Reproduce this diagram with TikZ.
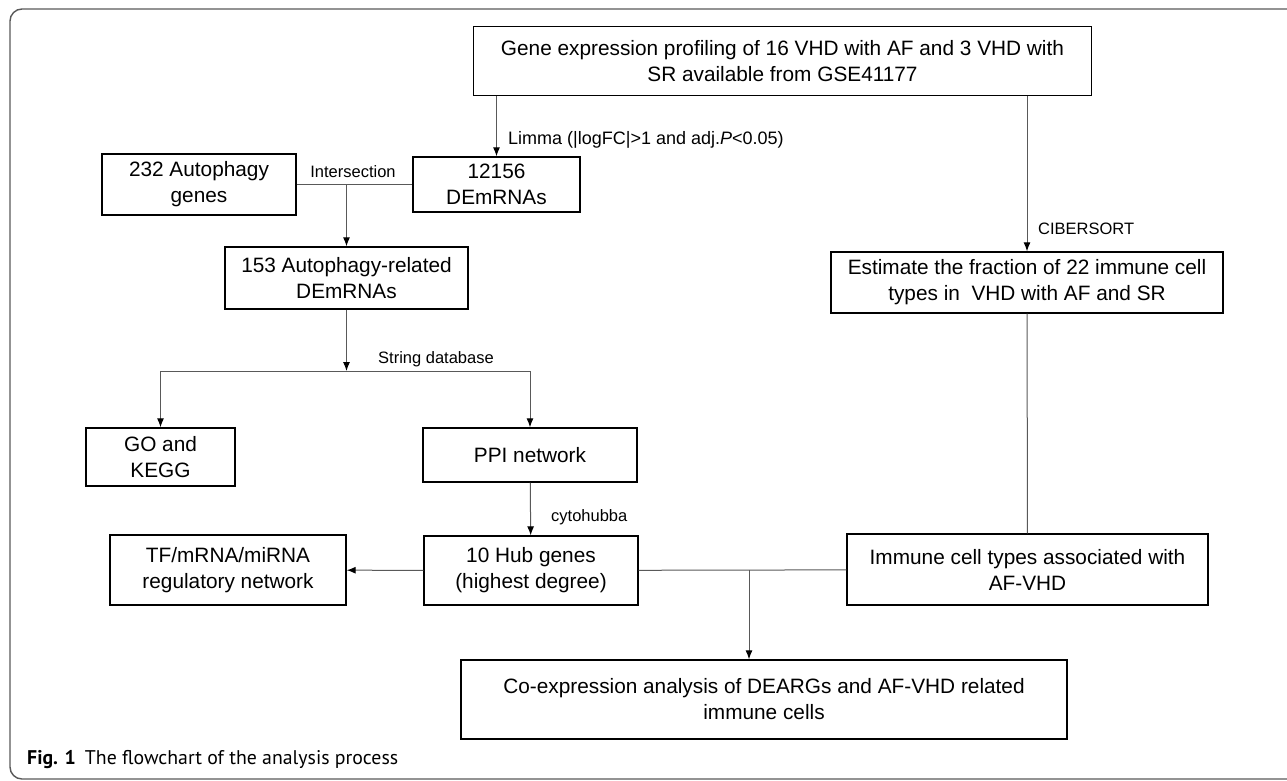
\documentclass[tikz,border=0pt]{standalone}
\usepackage{fontspec}
\setmainfont{Liberation Sans}
\newfontfamily\capfont{PT Sans}
\usetikzlibrary{arrows.meta}
\begin{document}
\begin{tikzpicture}[x=1pt,y=-1pt,
    box/.style={draw=black,line width=1.4pt,align=center,inner sep=2pt,
      font=\fontsize{20.8}{26}\selectfont},
    lbl/.style={font=\fontsize{16.5}{19}\selectfont,inner sep=0pt},
    conn/.style={draw=black!65,line width=1pt},
    arr/.style={conn,-{Latex[length=9pt,width=7pt,black]}}]
      \useasboundingbox (0,0) rectangle (1287,780);
      \clip (0,0) rectangle (1287,780);
      \draw[black!65,line width=1.4pt,rounded corners=12pt] (10,9) rectangle (1310,779);
      \draw
        (782.5,61) node[box,minimum width=618pt,minimum height=69pt] (top)
          {Gene expression profiling of 16 VHD with AF and 3 VHD with\\SR available from GSE41177}
        (199,184.5) node[box,minimum width=194pt,minimum height=61pt] (auto) {232 Autophagy\\genes}
        (496.5,184.5) node[box,minimum width=167pt,minimum height=55pt] (dem) {12156\\DEmRNAs}
        (346.5,278) node[box,minimum width=243pt,minimum height=62pt] (rel) {153 Autophagy-related\\DEmRNAs}
        (160.5,457) node[box,minimum width=149pt,minimum height=58pt] (go) {GO and\\KEGG}
        (530,455) node[box,minimum width=214pt,minimum height=54pt] (ppi) {PPI network}
        (531,570.5) node[box,minimum width=214pt,minimum height=69pt] (hub) {10 Hub genes\\(highest degree)}
        (228,570) node[box,minimum width=236pt,minimum height=70pt] (tf) {TF/mRNA/miRNA\\regulatory network}
        (1027,282.5) node[box,minimum width=392pt,minimum height=61pt] (est)
          {Estimate the fraction of 22 immune cell\\types in\ \ VHD with AF and SR}
        (1027.5,569.5) node[box,minimum width=361pt,minimum height=71pt] (imm)
          {Immune cell types associated with\\AF-VHD}
        (764,699.5) node[box,minimum width=606pt,minimum height=79pt] (coex)
          {Co-expression analysis of DEARGs and AF-VHD related\\immune cells};
      % labels
      \node[lbl,anchor=west,font=\fontsize{18}{20}\selectfont] (limma) at (508,140)
        {Limma (|logFC|>1 and adj.\textit{P}<0.05)};
      \node[lbl] (isectlbl) at (353,172) {Intersection};
      \node[lbl,anchor=west] (strlbl) at (378,359) {String database};
      \node[lbl,anchor=west] (ciblbl) at (1038,229) {CIBERSORT};
      \node[lbl,anchor=west] (cytlbl) at (551,517) {cytohubba};
      \node[anchor=west,inner sep=0pt] (cap) at (27,760)
        {\capfont\fontsize{19.8}{22}\selectfont\textbf{Fig. 1}\hspace{9pt}The flowchart of the analysis process};
      \coordinate (isect) at (346.5,184.5);
      \coordinate (split) at (346.5,371);
      \coordinate (join) at (749,570);
      \begin{scope}
        \draw[arr] (top.south -| dem.north) to (dem);
        \draw[arr] (top.south -| est.north) to (est);
        \draw[conn] (auto) to (dem);
        \draw[arr] (isect) to (rel);
        \draw[arr] (rel) to (split);
        \draw[conn] (go.north |- split) to (ppi.north |- split);
        \draw[arr] (go.north |- split) to (go);
        \draw[arr] (ppi.north |- split) to (ppi);
        \draw[arr] (ppi) to (hub);
        \draw[arr] (hub) to (tf);
        \draw[conn] (est) to (imm);
        \draw[conn] (imm) to (hub);
        \draw[arr] (join) to (coex.north -| join);
      \end{scope}
    \end{tikzpicture}
\end{document}
